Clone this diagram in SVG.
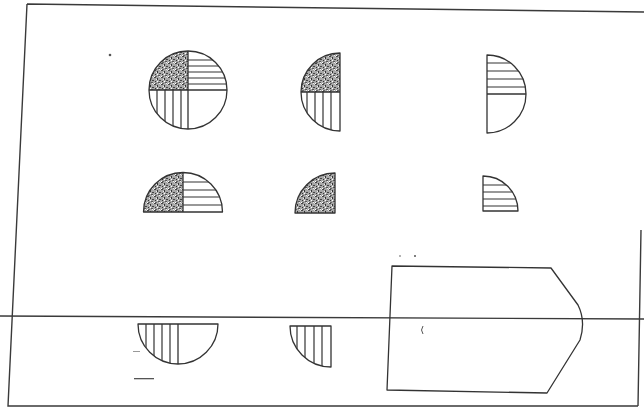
<svg xmlns="http://www.w3.org/2000/svg" width="644" height="415" viewBox="0 0 644 415">
<style>
.o{fill:none;stroke:#333;stroke-width:1.3;stroke-linejoin:round}
.h{stroke:#333;stroke-width:1.2}
.st{fill:url(#stip);stroke:none}
.frame{fill:none;stroke:#3a3a3a;stroke-width:1.4}
.mark{fill:#555}
</style>
<defs>
<pattern id="stip" width="7" height="7" patternUnits="userSpaceOnUse">
<rect width="7" height="7" fill="#a8a8a8"/>
<rect x="0" y="0" width="2" height="1" fill="#444"/>
<rect x="3" y="1" width="1" height="2" fill="#333"/>
<rect x="5" y="3" width="2" height="1" fill="#444"/>
<rect x="1" y="4" width="1" height="1" fill="#333"/>
<rect x="4" y="5" width="2" height="1" fill="#555"/>
<rect x="0" y="6" width="1" height="1" fill="#fff"/>
<rect x="2" y="2" width="1" height="1" fill="#eee"/>
<rect x="6" y="0" width="1" height="1" fill="#ddd"/>
<rect x="3" y="4" width="1" height="1" fill="#fff"/>
<rect x="5" y="6" width="1" height="1" fill="#eee"/>
<rect x="1" y="6" width="2" height="1" fill="#666"/>
</pattern>
<clipPath id="c1"><circle cx="188" cy="90" r="39"/></clipPath>
<clipPath id="c3"><circle cx="487" cy="94" r="39"/></clipPath>
<clipPath id="c4"><circle cx="183" cy="212" r="39.5"/></clipPath>
<clipPath id="c6"><circle cx="483" cy="211" r="35"/></clipPath>
<clipPath id="c7"><circle cx="178" cy="324" r="40"/></clipPath>
<clipPath id="c2"><circle cx="340" cy="92" r="39"/></clipPath>
<clipPath id="c8"><circle cx="331" cy="326" r="41"/></clipPath>
</defs>
<rect width="644" height="415" fill="#fff"/>

<g id="frame">
<path class="frame" d="M27,4 L644,12 M27,4 L8,406 L638,406 M641,230 L638,406"/>
<line class="frame" x1="0" y1="316" x2="644" y2="319"/>
</g>

<g id="fig1">
<path class="st" d="M188,90 L149,90 A39,39 0 0 1 188,51 Z"/>
<g clip-path="url(#c1)" class="h">
<line x1="188" y1="60" x2="230" y2="60"/><line x1="188" y1="66" x2="230" y2="66"/>
<line x1="188" y1="72" x2="230" y2="72"/><line x1="188" y1="78" x2="230" y2="78"/>
<line x1="188" y1="84" x2="230" y2="84"/>
<line x1="157" y1="90" x2="157" y2="130"/><line x1="165" y1="90" x2="165" y2="130"/>
<line x1="173" y1="90" x2="173" y2="130"/><line x1="181" y1="90" x2="181" y2="130"/>
</g>
<circle class="o" cx="188" cy="90" r="39"/>
<path class="o" d="M188,51 V129 M149,90 H227"/>
</g>

<g id="fig2">
<path class="st" d="M340,92 L301,92 A39,39 0 0 1 340,53 Z"/>
<g clip-path="url(#c2)" class="h">
<line x1="307" y1="92" x2="307" y2="132"/><line x1="315" y1="92" x2="315" y2="132"/>
<line x1="323" y1="92" x2="323" y2="132"/><line x1="331" y1="92" x2="331" y2="132"/>
</g>
<path class="o" d="M340,53 A39,39 0 0 0 340,131 Z M301,92 H340"/>
</g>

<g id="fig3">
<g clip-path="url(#c3)" class="h">
<line x1="487" y1="63" x2="527" y2="63"/><line x1="487" y1="71" x2="527" y2="71"/>
<line x1="487" y1="79" x2="527" y2="79"/><line x1="487" y1="87" x2="527" y2="87"/>
</g>
<path class="o" d="M487,55 A39,39 0 0 1 487,133 Z M487,94 H526"/>
</g>

<g id="fig4">
<path class="st" d="M183,212 L143.5,212 A39.5,39.5 0 0 1 183,172.5 Z"/>
<g clip-path="url(#c4)" class="h">
<line x1="183" y1="182" x2="224" y2="182"/><line x1="183" y1="190" x2="224" y2="190"/>
<line x1="183" y1="197" x2="224" y2="197"/><line x1="183" y1="205" x2="224" y2="205"/>
</g>
<path class="o" d="M143.5,212 A39.5,39.5 0 0 1 222.5,212 Z M183,172.5 V212"/>
</g>

<g id="fig5">
<path class="st" d="M335,213 L295,213 A40,40 0 0 1 335,173 Z"/>
<path class="o" d="M335,213 L295,213 A40,40 0 0 1 335,173 Z"/>
</g>

<g id="fig6">
<g clip-path="url(#c6)" class="h">
<line x1="483" y1="185" x2="520" y2="185"/><line x1="483" y1="192" x2="520" y2="192"/>
<line x1="483" y1="199" x2="520" y2="199"/><line x1="483" y1="206" x2="520" y2="206"/>
</g>
<path class="o" d="M483,211 L483,176 A35,35 0 0 1 518,211 Z"/>
</g>

<g id="fig7">
<g clip-path="url(#c7)" class="h">
<line x1="146" y1="324" x2="146" y2="366"/><line x1="154" y1="324" x2="154" y2="366"/>
<line x1="162" y1="324" x2="162" y2="366"/><line x1="170" y1="324" x2="170" y2="366"/>
</g>
<path class="o" d="M138,324 A40,40 0 0 0 218,324 Z M178,324 V364"/>
</g>

<g id="fig8">
<g clip-path="url(#c8)" class="h">
<line x1="297" y1="326" x2="297" y2="368"/><line x1="305" y1="326" x2="305" y2="368"/>
<line x1="314" y1="326" x2="314" y2="368"/><line x1="322" y1="326" x2="322" y2="368"/>
</g>
<path class="o" d="M290,326 A41,41 0 0 0 331,367 L331,326 Z"/>
</g>

<g id="answer">
<path class="o" d="M392,266 L551,268 L578,305 Q586,321 580,340 L547,393 L387,390 Z"/>
</g>

<g id="marks">
<circle class="mark" cx="110" cy="55" r="1.3"/>
<rect class="mark" x="134" y="378" width="20" height="1.3"/>
<rect class="mark" x="133" y="351" width="7" height="1" opacity="0.6"/>
<path d="M423,326 q-3,4 0,8" fill="none" stroke="#555" stroke-width="1"/>
<circle class="mark" cx="415" cy="256" r="1"/>
<circle class="mark" cx="400" cy="256" r="0.8"/>
</g>
</svg>
